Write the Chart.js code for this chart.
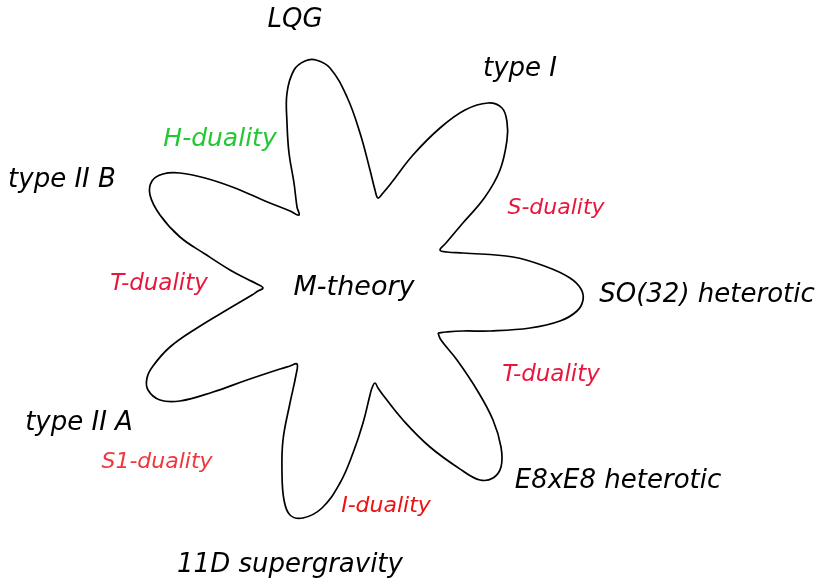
<!DOCTYPE html>
<html>
<head>
<meta charset="utf-8">
<script src="https://cdn.jsdelivr.net/npm/chart.js@4"></script>
<style>
  html, body { margin: 0; padding: 0; background: #fff; }
</style>
</head>
<body>
<canvas id="myChart" width="818" height="581"></canvas>
<script>
// outline of the star (centre of M-theory = 0,0, y up)
// starts and ends in a valley so the closing join falls on a corner
const outline = [
  [83, -43], [86, -50], [102, -70], [122, -100], [138, -130], [146, -157], [146, -177], [138, -188],
  [125, -190], [108, -181], [75, -157], [48, -130], [28, -105], [23, -98], [20, -93],
  [17, -98], [15, -105], [8, -133], [-2, -163], [-15, -193], [-33, -218], [-52, -228], [-65, -225],
  [-71, -210], [-73, -183], [-72, -150], [-65, -113], [-59, -85], [-58, -74],
  [-65, -76], [-75, -79], [-108, -90], [-142, -102], [-175, -111], [-195, -110], [-207, -100], [-208, -88],
  [-202, -76], [-185, -57], [-158, -38], [-125, -18], [-103, -5], [-97, -1], [-92, 2],
  [-98, 6], [-108, 11], [-125, 20], [-150, 36], [-175, 53], [-195, 75], [-205, 95], [-203, 109],
  [-192, 116], [-175, 117], [-150, 112], [-120, 102], [-90, 89], [-65, 79], [-56, 75],
  [-58, 83], [-61, 107], [-66, 137], [-68, 167], [-68, 197], [-61, 220], [-50, 229], [-39, 230],
  [-25, 222], [-8, 193], [5, 157], [15, 120], [20, 100], [23, 92],
  [28, 97], [37, 108], [58, 135], [85, 162], [110, 180], [133, 187], [147, 182], [152, 168],
  [152, 150], [145, 120], [130, 93], [107, 66], [91, 47], [85, 40],
  [92, 38], [108, 37], [158, 33], [192, 23], [215, 12], [226, 1], [228, -10], [222, -21],
  [205, -31], [175, -38], [135, -41], [108, -41], [91, -42], [83, -43]
];

const centreName = 'M-theory';
const theories = ['LQG', 'type I', 'SO(32) heterotic', 'E8xE8 heterotic', '11D supergravity', 'type II A', 'type II B'];
const dualities = ['H-duality', 'S-duality', 'T-duality', 'T-duality', 'I-duality', 'S1-duality'];

// where each text sits (centre x, baseline y) in chart units
const centrePos = [-1, -5];
const theoryPos = [[-60, 263], [165, 214], [352, -12], [263, -198], [-65, -282], [-276, -140], [-293, 103]];
const dualityPos = [[-135, 144], [201, 76], [-196, 0], [196, -91], [31, -222], [-198, -178]];
const dualityColors = ['#22c832', '#e8163c', '#e8163c', '#e8163c', '#ee1111', '#f0373c'];
const dualitySizes = [25, 22, 23, 23, 22, 22];

const points = outline.map(p => ({ x: p[0], y: p[1] }));

const textPlugin = {
  id: 'texts',
  afterDatasetsDraw(chart) {
    const ctx = chart.ctx;
    const sx = chart.scales.x, sy = chart.scales.y;
    function put(txt, pos, size, color) {
      ctx.save();
      ctx.font = 'italic ' + size + 'px "DejaVu Sans"';
      ctx.fillStyle = color;
      ctx.textAlign = 'center';
      ctx.textBaseline = 'alphabetic';
      ctx.fillText(txt, sx.getPixelForValue(pos[0]), sy.getPixelForValue(pos[1]));
      ctx.restore();
    }
    put(centreName, centrePos, 27, '#000');
    theories.forEach((t, i) => put(t, theoryPos[i], 26, '#000'));
    dualities.forEach((d, i) => put(d, dualityPos[i], dualitySizes[i], dualityColors[i]));
  }
};

const canvas = document.getElementById('myChart');
const myChart = new Chart(canvas.getContext('2d'), {
  type: 'scatter',
  data: {
    datasets: [{
      data: points,
      showLine: true,
      borderColor: '#000',
      borderWidth: 1.7,
      pointRadius: 0,
      tension: 0.4,
      fill: false
    }]
  },
  options: {
    responsive: false,
    animation: false,
    layout: { padding: 0 },
    scales: {
      x: { type: 'linear', min: -355, max: 463, display: false },
      y: { type: 'linear', min: -291, max: 290, display: false }
    },
    plugins: {
      legend: { display: false },
      tooltip: { enabled: false }
    }
  },
  plugins: [textPlugin]
});
</script>
</body>
</html>
